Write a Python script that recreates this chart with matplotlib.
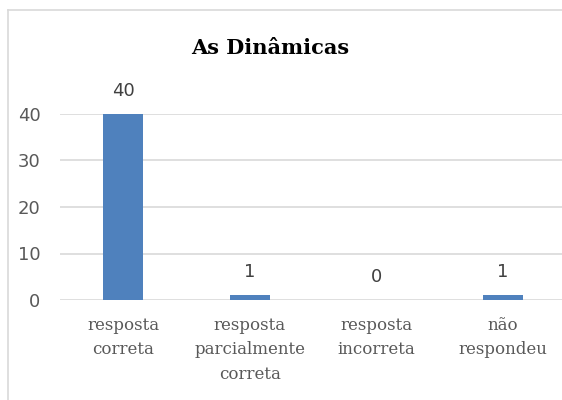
import matplotlib
matplotlib.use("Agg")
import matplotlib.pyplot as plt
from matplotlib.lines import Line2D

categories = ["resposta\ncorreta", "resposta\nparcialmente\ncorreta", "resposta\nincorreta", "não\nrespondeu"]
values = [40, 1, 0, 1]
yticks = [0, 10, 20, 30, 40]
title = "As Dinâmicas"

fig = plt.figure(figsize=(5.62, 4.0), dpi=100)
top = 1 - 10/400
left = 8/562
fig.lines.append(Line2D([left, left], [0, top], transform=fig.transFigure, color="#D9D9D9", linewidth=1.2))
fig.lines.append(Line2D([left, 1.0], [top, top], transform=fig.transFigure, color="#D9D9D9", linewidth=1.2))
ax = fig.add_axes([60/562, 100/400, 506/562, 186/400])
x = list(range(len(categories)))
ax.bar(x, values, width=0.32, color="#4F81BD", zorder=3)
ax.set_xlim(-0.5, 3.5)
ax.set_ylim(0, 40)
ax.set_yticks(yticks)
ax.yaxis.grid(True, color="#D9D9D9", linewidth=1.2, zorder=0)
for s in ax.spines.values():
    s.set_visible(False)
ax.tick_params(axis="both", length=0)
ax.tick_params(axis="y", labelsize=13, labelcolor="#595959", pad=14)
ax.set_xticks(x)
ax.set_xticklabels(categories, fontfamily="DejaVu Serif", fontsize=12, color="#595959", linespacing=1.6)
ax.tick_params(axis="x", pad=12)
for xi, v in zip(x, values):
    ax.annotate(str(v), (xi, v), xytext=(0, 10), textcoords="offset points",
                ha="center", va="bottom", fontsize=13, color="#404040")
fig.text(270/562, 1 - 48/400, title, ha="center", va="center", fontfamily="DejaVu Serif",
         fontweight="bold", fontsize=15, color="black")
fig.savefig("out.png", dpi=100)
